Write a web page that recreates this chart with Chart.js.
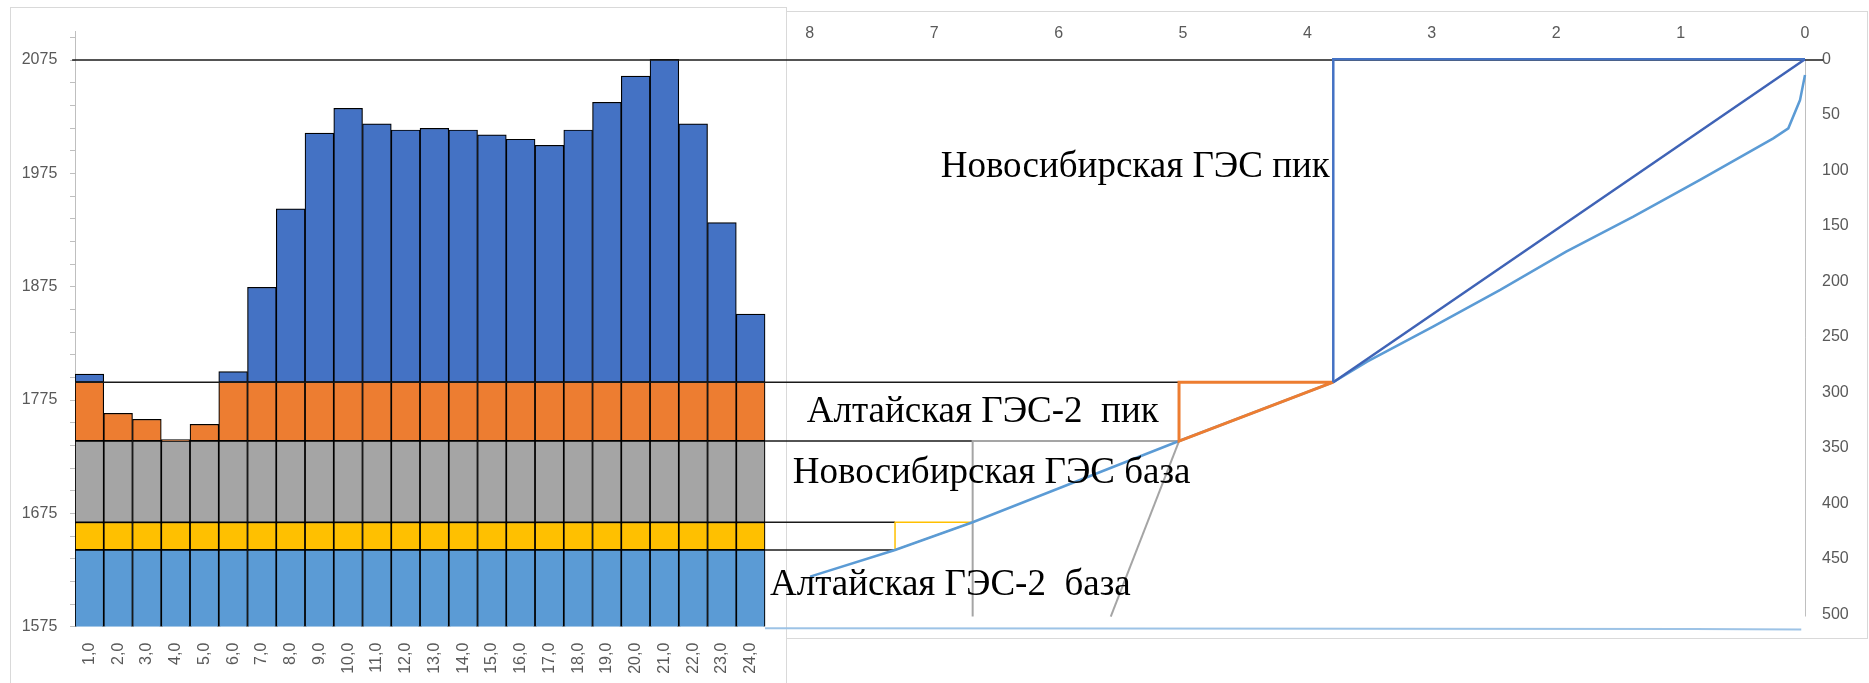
<!DOCTYPE html>
<html lang="ru">
<head>
<meta charset="utf-8">
<title>Покрытие графика нагрузки ГЭС</title>
<script src="https://cdn.jsdelivr.net/npm/chart.js@4.4.1/dist/chart.umd.min.js"></script>
<style>
  html, body { margin: 0; padding: 0; background: #fff; }
  #chart { display: block; }
</style>
</head>
<body>
<canvas id="chart" width="1869" height="683"></canvas>
<script>
// суточный график нагрузки, МВт
const hours = [1, 2, 3, 4, 5, 6, 7, 8, 9, 10, 11, 12, 13, 14, 15, 16, 17, 18, 19, 20, 21, 22, 23, 24];
const load = [1797.8, 1763.3, 1758.0, 1740.0, 1753.6, 1800.0, 1874.5, 1943.6, 2010.6, 2032.4, 2018.6, 2013.3,
              2014.8, 2013.3, 2008.9, 2005.1, 1999.8, 2013.3, 2037.7, 2060.9, 2075.6, 2018.6, 1931.5, 1850.9];

// границы зон: Алтайская база, промежуточная зона, Новосибирская база, Алтайская пик
const zoneTops = [1642.7, 1667.1, 1738.9, 1790.7];
const loadMin = 1575;
const peakLoad = 2075;

const loadTicks = [1575, 1595, 1615, 1635, 1655, 1675, 1695, 1715, 1735, 1755, 1775, 1795, 1815, 1835,
                   1855, 1875, 1895, 1915, 1935, 1955, 1975, 1995, 2015, 2035, 2055, 2075, 2095];
const loadLabels = [1575, 1675, 1775, 1875, 1975, 2075];
const energyTicks = [0, 1, 2, 3, 4, 5, 6, 7, 8];
const powerTicks = [0, 50, 100, 150, 200, 250, 300, 350, 400, 450, 500];

// интегральная кривая нагрузки: энергия (тыс. МВт·ч) / мощность от пика (МВт)
const curveE = [0, 0.04, 0.134, 0.255, 0.844, 1.38, 1.92, 2.45, 2.99, 3.52, 3.792, 5.032, 6.691, 7.315, 7.998];
const curveP = [14.1, 36.7, 62.2, 71.2, 108.7, 141.8, 173.3, 207.8, 240.9, 272.4, 290.9, 343.9, 417.1, 442.1, 466.1];

// вписанные треугольники станций
const novPeakE = [0, 3.792, 3.792];
const novPeakP = [0, 0, 290.9];
const novPeakDiagE = [0, 3.792];
const novPeakDiagP = [0, 290.9];
const altPeakE = [3.792, 5.032, 5.032, 3.792];
const altPeakP = [290.9, 290.9, 343.9, 290.9];
const novBaseE = [5.032, 6.691, 6.691];
const novBaseP = [343.9, 343.9, 502];
const novBaseDiagE = [5.032, 5.581];
const novBaseDiagP = [343.9, 502];
const midZoneE = [6.691, 7.315, 7.315, 6.691];
const midZoneP = [417.1, 417.1, 442.1, 417.1];
const floorE = [8.36, 5.6, 0.9, 0.03];
const floorP = [512.6, 512.8, 513.3, 513.6];

// переносы уровней с графика нагрузки на интегральную кривую
const linkLevels = [peakLoad, zoneTops[3], zoneTops[2], zoneTops[1], zoneTops[0]];
const linkFromE = [13.93, 13.907, 8.36, 8.36, 8.36];
const linkToE = [-0.145, 5.032, 6.691, 7.315, 7.315];

const pts = (xs, ys) => xs.map((x, i) => ({x: x, y: ys[i]}));

Chart.defaults.font.family = "'Liberation Sans', Arial, sans-serif";
Chart.defaults.font.size = 16;
Chart.defaults.color = '#595959';

function band(lo, hi, color, skip) {
  return {
    type: 'bar', xAxisID: 'x', yAxisID: 'y', order: 10,
    data: hours.map((h, i) => ({x: h, y: [lo[i], hi[i]]})).filter(d => d.y[1] > d.y[0]),
    backgroundColor: color, borderColor: '#000', borderWidth: 1.2,
    borderSkipped: skip, grouped: false, barPercentage: 1, categoryPercentage: 1
  };
}

function line(data, color, width, yAxis, order) {
  return {
    type: 'line', xAxisID: 'x2', yAxisID: yAxis || 'y2', order: order,
    data: data, borderColor: color, borderWidth: width, pointRadius: 0,
    fill: false, tension: 0, clip: false
  };
}

const flat = v => hours.map(() => v);
const datasets = [
  band(flat(loadMin), flat(zoneTops[0]), '#5B9BD5', 'start'),
  band(flat(zoneTops[0]), flat(zoneTops[1]), '#FFC000', false),
  band(flat(zoneTops[1]), flat(zoneTops[2]), '#A5A5A5', false),
  band(flat(zoneTops[2]), load.map(v => Math.min(v, zoneTops[3])), '#ED7D31', false),
  band(flat(zoneTops[3]), load.map(v => Math.max(v, zoneTops[3])), '#4472C4', false)
];
linkLevels.forEach((lvl, i) => {
  datasets.push(line(pts([linkFromE[i], linkToE[i]], [lvl, lvl]), '#1a1a1a', 1.5, 'y', 5));
});
datasets.push(line(pts(floorE, floorP), '#9DC3E6', 2, 'y2', 4));
datasets.push(line(pts(curveE, curveP), '#5B9BD5', 2.5, 'y2', 3));
datasets.push(line(pts(novBaseE, novBaseP), '#A5A5A5', 2, 'y2', 4));
datasets.push(line(pts(novBaseDiagE, novBaseDiagP), '#A5A5A5', 2, 'y2', 4));
datasets.push(line(pts(midZoneE, midZoneP), '#FFC000', 1.5, 'y2', 4));
datasets.push(line(pts(altPeakE, altPeakP), '#ED7D31', 3, 'y2', 2));
datasets.push(line(pts(novPeakE, novPeakP), '#4472C4', 2.5, 'y2', 1));
datasets.push(line(pts(novPeakDiagE, novPeakDiagP), '#3F63B6', 2.5, 'y2', 1));

// рамки двух панелей и ось мощности справа
const panels = {
  id: 'panels',
  beforeDraw(chart) {
    const ctx = chart.ctx;
    ctx.save();
    ctx.strokeStyle = '#D9D9D9';
    ctx.lineWidth = 1;
    ctx.strokeRect(10.5, 7.5, 776, 700);
    ctx.strokeRect(786.5, 11.5, 1081, 627);
    ctx.restore();
  },
  beforeDatasetsDraw(chart) {
    const s = chart.scales.y2;
    const ctx = chart.ctx;
    ctx.save();
    ctx.strokeStyle = '#BFBFBF';
    ctx.lineWidth = 1;
    ctx.beginPath();
    ctx.moveTo(Math.round(s.left) + 0.5, s.getPixelForValue(0));
    ctx.lineTo(Math.round(s.left) + 0.5, s.getPixelForValue(502));
    ctx.stroke();
    ctx.restore();
  }
};

// подписи зон на интегральной кривой
const captions = {
  id: 'captions',
  afterDatasetsDraw(chart) {
    const notes = [
      ['Новосибирская ГЭС пик', 6.948, 105.8],
      ['Алтайская ГЭС-2  пик', 8.025, 326.5],
      ['Новосибирская ГЭС база', 8.137, 382.0],
      ['Алтайская ГЭС-2  база', 8.32, 482.6]
    ];
    const ctx = chart.ctx;
    const sx = chart.scales.x2, sy = chart.scales.y2;
    ctx.save();
    ctx.font = "37px 'Liberation Serif', 'Times New Roman', serif";
    ctx.fillStyle = '#000';
    ctx.textAlign = 'left';
    ctx.textBaseline = 'alphabetic';
    notes.forEach(n => ctx.fillText(n[0], sx.getPixelForValue(n[1]), sy.getPixelForValue(n[2])));
    ctx.restore();
  }
};

new Chart(document.getElementById('chart'), {
  type: 'bar',
  data: { datasets: datasets },
  options: {
    responsive: false,
    animation: false,
    events: [],
    devicePixelRatio: 1,
    layout: { padding: 0 },
    plugins: { legend: { display: false }, tooltip: { enabled: false } },
    scales: {
      x: {
        type: 'linear', position: 'bottom', min: 0.5, max: 60.67, offset: false, bounds: 'data',
        afterBuildTicks: s => { s.ticks = hours.map(v => ({value: v})); },
        afterFit: s => { s.height = 56.3; },
        grid: { display: false, drawTicks: false, offset: false },
        border: { display: false },
        ticks: { autoSkip: false, minRotation: 90, maxRotation: 90, padding: 16, callback: v => v + ',0' }
      },
      y: {
        type: 'linear', position: 'left', min: loadMin, max: 2100, beginAtZero: false, bounds: 'data',
        afterBuildTicks: s => { s.ticks = loadTicks.map(v => ({value: v})); },
        afterFit: s => { s.width = 75; },
        grid: { drawOnChartArea: false, drawTicks: true, tickLength: 5, color: '#BFBFBF' },
        border: { color: '#BFBFBF' },
        ticks: { autoSkip: false, padding: 12.7, callback: v => loadLabels.includes(v) ? String(v) : '' }
      },
      x2: {
        type: 'linear', position: 'top', reverse: true, min: 0, max: 13.907, offset: false, bounds: 'data',
        afterBuildTicks: s => { s.ticks = energyTicks.map(v => ({value: v})); },
        afterFit: s => { s.height = 31.7; },
        grid: { display: false, drawTicks: false, offset: false },
        border: { display: false },
        ticks: { autoSkip: false, maxRotation: 0, mirror: true, padding: -7.3, callback: v => String(v) }
      },
      y2: {
        type: 'linear', position: 'right', reverse: true, min: -24.86, max: 511.17, beginAtZero: false, bounds: 'data',
        afterBuildTicks: s => { s.ticks = powerTicks.map(v => ({value: v})); },
        afterFit: s => { s.width = 64; },
        grid: { display: false, drawTicks: false },
        border: { display: false },
        ticks: { autoSkip: false, padding: 17, callback: v => String(v) }
      }
    }
  },
  plugins: [panels, captions]
});
</script>
</body>
</html>
